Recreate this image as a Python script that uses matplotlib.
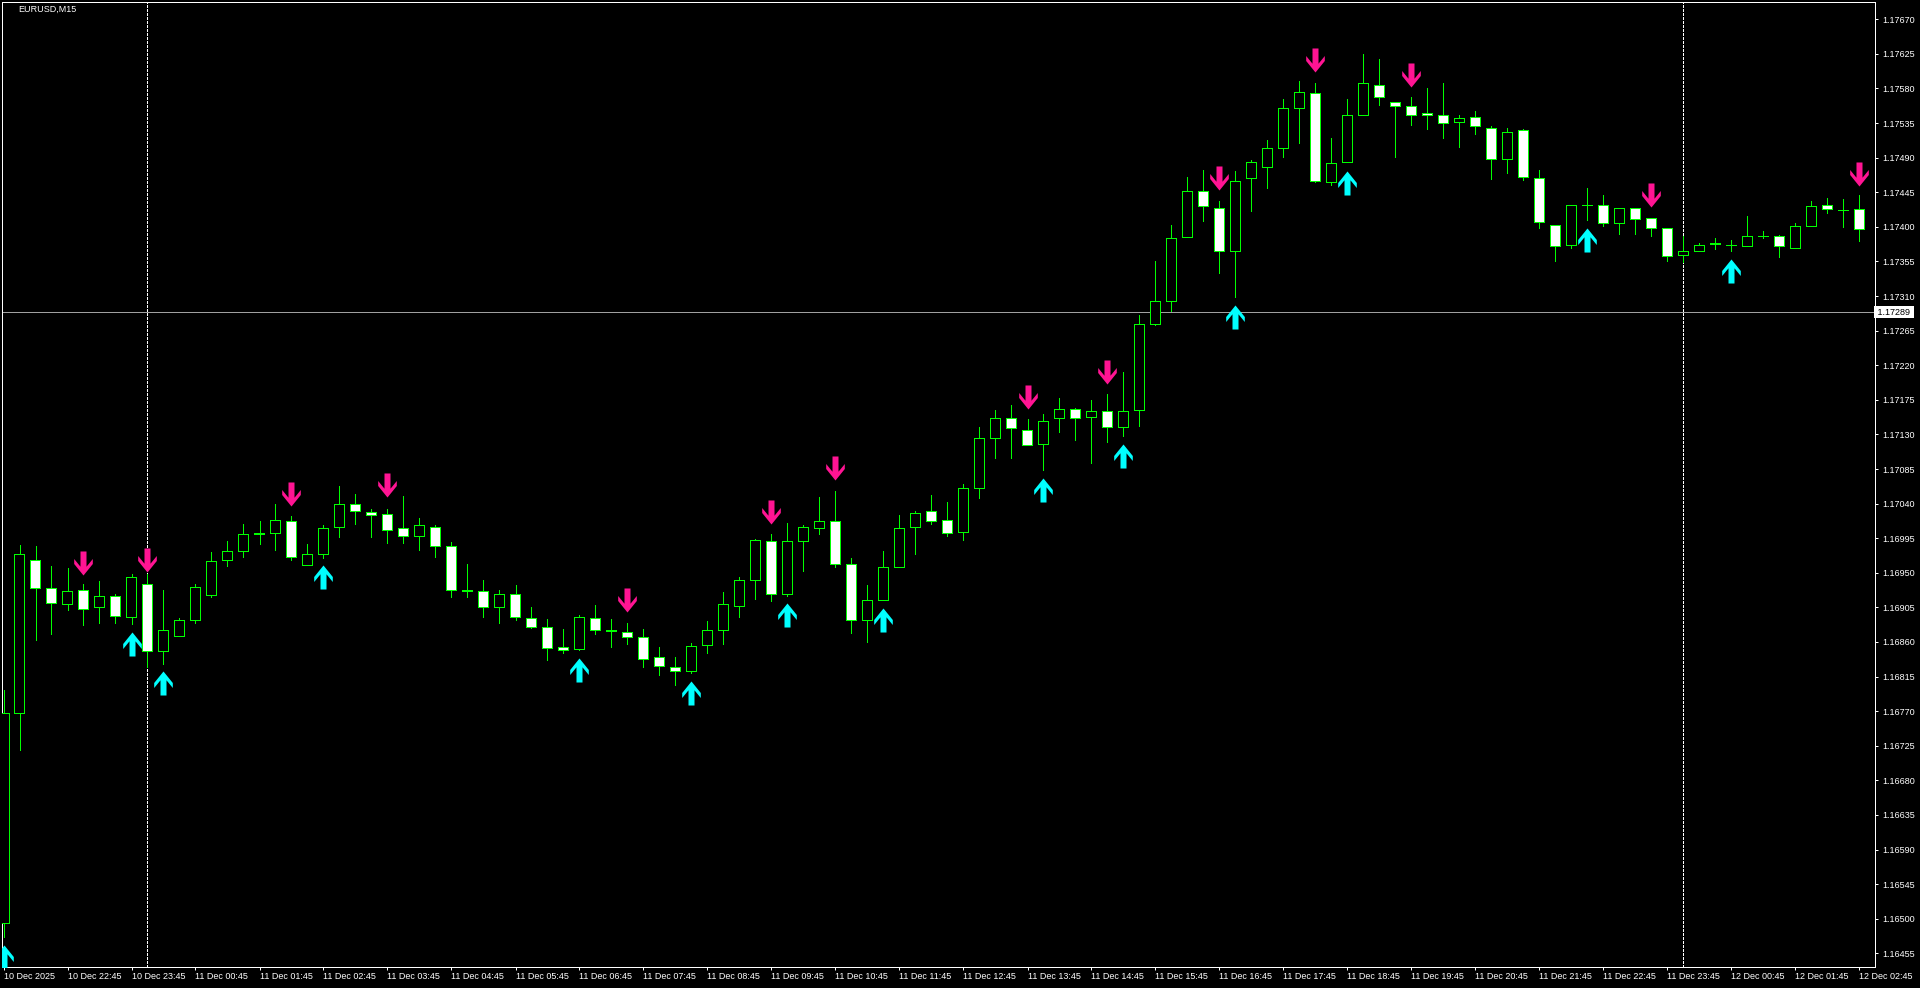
import numpy as np
import matplotlib
matplotlib.use('Agg')
import matplotlib.pyplot as plt
from matplotlib.path import Path

symbol = "EURUSD,M15"

# M15 candles, 10 Dec 2025 21:45 -> 12 Dec 2025 02:45
open_ = [1.16495, 1.16767, 1.16966, 1.16930, 1.16910, 1.16928, 1.16905, 1.16920, 1.16892, 1.16935,
         1.16848, 1.16868, 1.16889, 1.16921, 1.16966, 1.16978, 1.17001, 1.17002, 1.17018, 1.16960,
         1.16975, 1.17009, 1.17039, 1.17029, 1.17026, 1.17008, 1.16998, 1.17010, 1.16985, 1.16928,
         1.16926, 1.16905, 1.16922, 1.16891, 1.16880, 1.16853, 1.16851, 1.16891, 1.16875, 1.16873,
         1.16867, 1.16841, 1.16828, 1.16822, 1.16856, 1.16875, 1.16907, 1.16941, 1.16991, 1.16922,
         1.16991, 1.17008, 1.17017, 1.16962, 1.16889, 1.16915, 1.16958, 1.17009, 1.17030, 1.17019,
         1.17003, 1.17060, 1.17125, 1.17152, 1.17136, 1.17117, 1.17151, 1.17163, 1.17153, 1.17160,
         1.17140, 1.17162, 1.17274, 1.17304, 1.17387, 1.17446, 1.17425, 1.17369, 1.17463, 1.17478,
         1.17502, 1.17554, 1.17574, 1.17459, 1.17484, 1.17545, 1.17585, 1.17563, 1.17557, 1.17548,
         1.17546, 1.17536, 1.17543, 1.17528, 1.17488, 1.17526, 1.17463, 1.17402, 1.17377, 1.17429,
         1.17428, 1.17405, 1.17424, 1.17411, 1.17398, 1.17364, 1.17369, 1.17378, 1.17376, 1.17375,
         1.17388, 1.17388, 1.17373, 1.17401, 1.17428, 1.17422, 1.17423]
high = [1.16798, 1.16986, 1.16985, 1.16959, 1.16956, 1.16935, 1.16939, 1.16922, 1.16948, 1.16949,
        1.16927, 1.16891, 1.16936, 1.16977, 1.16991, 1.17013, 1.17017, 1.17039, 1.17024, 1.16987,
        1.17012, 1.17063, 1.17052, 1.17033, 1.17033, 1.17050, 1.17021, 1.17012, 1.16990, 1.16962,
        1.16940, 1.16927, 1.16934, 1.16905, 1.16890, 1.16877, 1.16895, 1.16908, 1.16890, 1.16885,
        1.16877, 1.16853, 1.16840, 1.16859, 1.16887, 1.16925, 1.16944, 1.16994, 1.17001, 1.17015,
        1.17012, 1.17048, 1.17057, 1.16969, 1.16934, 1.16978, 1.17025, 1.17030, 1.17051, 1.17042,
        1.17066, 1.17139, 1.17162, 1.17168, 1.17150, 1.17156, 1.17178, 1.17165, 1.17175, 1.17182,
        1.17211, 1.17285, 1.17356, 1.17402, 1.17465, 1.17474, 1.17434, 1.17473, 1.17487, 1.17513,
        1.17566, 1.17590, 1.17587, 1.17516, 1.17566, 1.17625, 1.17618, 1.17563, 1.17569, 1.17580,
        1.17587, 1.17545, 1.17551, 1.17531, 1.17529, 1.17527, 1.17474, 1.17402, 1.17429, 1.17450,
        1.17441, 1.17425, 1.17424, 1.17411, 1.17398, 1.17388, 1.17379, 1.17386, 1.17383, 1.17414,
        1.17394, 1.17390, 1.17405, 1.17433, 1.17437, 1.17436, 1.17441]
low = [1.16476, 1.16719, 1.16862, 1.16870, 1.16901, 1.16882, 1.16885, 1.16885, 1.16883, 1.16828,
       1.16832, 1.16868, 1.16885, 1.16919, 1.16959, 1.16971, 1.16988, 1.16979, 1.16967, 1.16960,
       1.16969, 1.16996, 1.17013, 1.16997, 1.16989, 1.16989, 1.16980, 1.16971, 1.16918, 1.16919,
       1.16893, 1.16885, 1.16888, 1.16878, 1.16836, 1.16846, 1.16849, 1.16871, 1.16854, 1.16857,
       1.16828, 1.16817, 1.16804, 1.16820, 1.16846, 1.16858, 1.16892, 1.16916, 1.16913, 1.16920,
       1.16952, 1.17000, 1.16958, 1.16872, 1.16860, 1.16915, 1.16958, 1.16974, 1.17013, 1.16998,
       1.16993, 1.17047, 1.17099, 1.17099, 1.17116, 1.17084, 1.17133, 1.17123, 1.17093, 1.17120,
       1.17128, 1.17141, 1.17272, 1.17291, 1.17387, 1.17408, 1.17340, 1.17309, 1.17420, 1.17450,
       1.17491, 1.17509, 1.17459, 1.17455, 1.17484, 1.17545, 1.17558, 1.17491, 1.17533, 1.17527,
       1.17515, 1.17504, 1.17521, 1.17462, 1.17470, 1.17461, 1.17398, 1.17356, 1.17373, 1.17409,
       1.17401, 1.17391, 1.17391, 1.17388, 1.17356, 1.17354, 1.17368, 1.17371, 1.17368, 1.17375,
       1.17386, 1.17361, 1.17373, 1.17401, 1.17418, 1.17400, 1.17382]
close = [1.16767, 1.16975, 1.16930, 1.16911, 1.16926, 1.16903, 1.16920, 1.16894, 1.16944, 1.16848,
         1.16876, 1.16888, 1.16932, 1.16965, 1.16978, 1.17001, 1.17002, 1.17019, 1.16971, 1.16975,
         1.17008, 1.17040, 1.17030, 1.17025, 1.17006, 1.16998, 1.17012, 1.16985, 1.16927, 1.16926,
         1.16905, 1.16922, 1.16893, 1.16880, 1.16852, 1.16850, 1.16893, 1.16875, 1.16874, 1.16867,
         1.16838, 1.16829, 1.16822, 1.16855, 1.16876, 1.16909, 1.16940, 1.16993, 1.16922, 1.16991,
         1.17009, 1.17018, 1.16962, 1.16889, 1.16914, 1.16957, 1.17008, 1.17028, 1.17018, 1.17002,
         1.17060, 1.17125, 1.17152, 1.17138, 1.17116, 1.17148, 1.17163, 1.17152, 1.17160, 1.17139,
         1.17161, 1.17274, 1.17303, 1.17386, 1.17446, 1.17427, 1.17369, 1.17460, 1.17484, 1.17502,
         1.17554, 1.17575, 1.17460, 1.17483, 1.17545, 1.17587, 1.17569, 1.17557, 1.17545, 1.17545,
         1.17535, 1.17542, 1.17531, 1.17488, 1.17524, 1.17465, 1.17406, 1.17375, 1.17429, 1.17428,
         1.17405, 1.17424, 1.17410, 1.17398, 1.17362, 1.17369, 1.17377, 1.17379, 1.17377, 1.17388,
         1.17388, 1.17375, 1.17401, 1.17427, 1.17423, 1.17422, 1.17397]

# signal arrows (bar index, price at arrow centre)
up_idx = [0, 8, 10, 20, 36, 43, 49, 55, 65, 70, 77, 84, 99, 108]
up_price = [1.16450, 1.16858, 1.16807, 1.16944, 1.16824, 1.16793, 1.16895, 1.16889,
            1.17058, 1.17102, 1.17283, 1.17457, 1.17383, 1.17342]
dn_idx = [5, 9, 18, 24, 39, 48, 52, 64, 69, 76, 82, 88, 103, 116]
dn_price = [1.16963, 1.16966, 1.17053, 1.17064, 1.16914, 1.17029, 1.17086, 1.17179,
            1.17211, 1.17463, 1.17617, 1.17597, 1.17441, 1.17469]

# day separators (bars at 00:00) and a horizontal level
sep_idx = [9, 105]
hline_price = 1.17289

x_tick_idx = list(range(0, 117, 4))
x_labels = ["10 Dec 2025", "10 Dec 22:45", "10 Dec 23:45",
            "11 Dec 00:45", "11 Dec 01:45", "11 Dec 02:45", "11 Dec 03:45", "11 Dec 04:45",
            "11 Dec 05:45", "11 Dec 06:45", "11 Dec 07:45", "11 Dec 08:45", "11 Dec 09:45",
            "11 Dec 10:45", "11 Dec 11:45", "11 Dec 12:45", "11 Dec 13:45", "11 Dec 14:45",
            "11 Dec 15:45", "11 Dec 16:45", "11 Dec 17:45", "11 Dec 18:45", "11 Dec 19:45",
            "11 Dec 20:45", "11 Dec 21:45", "11 Dec 22:45", "11 Dec 23:45",
            "12 Dec 00:45", "12 Dec 01:45", "12 Dec 02:45"]
price_ticks = [1.16455, 1.16500, 1.16545, 1.16590, 1.16635, 1.16680, 1.16725, 1.16770,
               1.16815, 1.16860, 1.16905, 1.16950, 1.16995, 1.17040, 1.17085, 1.17130,
               1.17175, 1.17220, 1.17265, 1.17310, 1.17355, 1.17400, 1.17445, 1.17490,
               1.17535, 1.17580, 1.17625, 1.17670]

plt.rcParams['font.family'] = ['Liberation Sans', 'DejaVu Sans']
GREEN = '#00ff00'
PX = 0.72  # one pixel at 100 dpi, in points

W, H = 1920, 988
fig = plt.figure(figsize=(W / 100, H / 100), dpi=100, facecolor='black')
ax = fig.add_axes([2 / W, 21 / H, 1873 / W, 965 / H])
ax.set_facecolor('black')

o = np.array(open_)
h = np.array(high)
l = np.array(low)
c = np.array(close)
x = np.arange(len(o))
bear = c < o

ax.vlines(x, l, h, color=GREEN, linewidth=PX, antialiased=False, zorder=2)
ax.bar(x, np.abs(c - o), 0.625, bottom=np.minimum(o, c),
       color=np.where(bear, 'white', 'black'), edgecolor=GREEN,
       linewidth=PX, antialiased=False, zorder=3)

# thick arrow glyph, pixel units, tip up
arrow_v = [(0, 12), (9.3, 0.5), (9.3, -4.5), (3.0, 3.2), (3.0, -12), (-3.0, -12),
           (-3.0, 3.2), (-9.3, -4.5), (-9.3, 0.5), (0, 12)]
up_arrow = Path(arrow_v, closed=True)
dn_arrow = Path([(px, -py) for px, py in arrow_v], closed=True)
ax.plot(up_idx, up_price, ls='none', marker=up_arrow, ms=17.3,
        color='#00ffff', mec='none', zorder=5)
ax.plot(dn_idx, dn_price, ls='none', marker=dn_arrow, ms=17.3,
        color='#ff1493', mec='none', zorder=5)

for s in sep_idx:
    ax.axvline(s, color='white', linewidth=PX, linestyle=(0, (2.9, 1.45)),
               antialiased=False, zorder=1)
ax.axhline(hline_price, color='#a0a0a0', linewidth=PX, antialiased=False, zorder=1)

ax.set_xlim(-1.5 / 16, 1871.5 / 16)
ax.set_ylim(1.164372, 1.176925)

for sp in ax.spines.values():
    sp.set_color('white')
    sp.set_linewidth(PX)

ax.set_xticks(x_tick_idx, labels=x_labels)
for lbl in ax.get_xticklabels():
    lbl.set_horizontalalignment('left')
ax.yaxis.tick_right()
ax.set_yticks(price_ticks, labels=['%.5f' % p for p in price_ticks])
ax.tick_params(axis='both', colors='white', labelsize=6.5, width=PX)
ax.tick_params(axis='x', length=2.5, pad=1)
ax.tick_params(axis='y', length=2.5, pad=3)

ax.text(1.0, hline_price, ' %.5f ' % hline_price, transform=ax.get_yaxis_transform(),
        ha='left', va='center', fontsize=6.5, color='black', clip_on=False,
        bbox=dict(boxstyle='square,pad=0.15', fc='white', ec='none'), zorder=6)

fig.text(18 / W, 1 - 5 / H, symbol, color='white', fontsize=6.5, ha='left', va='top')

fig.savefig('out.png', dpi=100, facecolor='black')
